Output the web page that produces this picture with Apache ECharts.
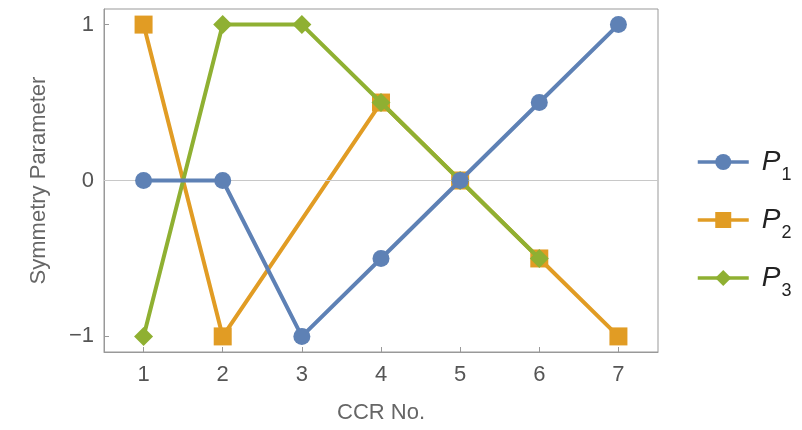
<!DOCTYPE html>
<html>
<head>
<meta charset="utf-8">
<script src="https://cdn.jsdelivr.net/npm/echarts@6/dist/echarts.min.js"></script>
<style>html,body{margin:0;padding:0;background:#fff}#c{width:802px;height:430px}</style>
</head>
<body>
<div id="c"></div>
<script>
var categories = ['1','2','3','4','5','6','7'];
var p1 = [0, 0, -1, -0.5, 0, 0.5, 1];
var p2 = [1, -1, null, 0.5, 0, -0.5, -1];
var p3 = [-1, 1, 1, 0.5, 0, -0.5, null];
var yTicks = [-1, 0, 1];
var seriesNames = ['P1', 'P2', 'P3'];

var colors = ['#5E81B5', '#E19C24', '#8FB032'];
var font = 'Liberation Sans, Arial, sans-serif';

var chart = echarts.init(document.getElementById('c'));
function mk(name, data, color, symbol, size) {
  return {
    name: name, type: 'line', data: data, symbol: symbol, symbolSize: size,
    showAllSymbol: true, connectNulls: true,
    lineStyle: {color: color, width: 4}, itemStyle: {color: color},
    emphasis: {disabled: true}
  };
}
var s1 = mk(seriesNames[0], p1, colors[0], 'circle', 17);
s1.markLine = {silent: true, symbol: ['none','none'], label: {show: false},
  lineStyle: {color: '#c8c8c8', width: 1, type: 'solid'}, data: [{yAxis: 0}]};
s1.z = 5;
var s2 = mk(seriesNames[1], p2, colors[1], 'rect', 18);
s2.z = 3;
var s3 = mk(seriesNames[2], p3, colors[2], 'diamond', 19);
s3.z = 4;

chart.setOption({
  animation: false,
  grid: {left: 104, right: 144, top: 9, bottom: 78, show: true, borderColor: '#999', borderWidth: 1, backgroundColor: 'transparent'},
  xAxis: {
    type: 'category', data: categories, boundaryGap: true,
    name: 'CCR No.', nameLocation: 'middle', nameGap: 50,
    nameTextStyle: {fontFamily: font, fontSize: 22, color: '#666'},
    axisLine: {show: true, onZero: false, lineStyle: {color: '#999'}},
    axisTick: {show: true, alignWithLabel: true, inside: true, length: 5, lineStyle: {color: '#999'}},
    axisLabel: {fontFamily: font, fontSize: 22, color: '#555', margin: 12},
    splitLine: {show: false}
  },
  yAxis: {
    type: 'value', min: -1.1, max: 1.1,
    name: 'Symmetry Parameter', nameLocation: 'middle', nameGap: 54,
    nameTextStyle: {fontFamily: font, fontSize: 22, color: '#666'},
    axisLine: {show: true, onZero: false, lineStyle: {color: '#999'}},
    axisTick: {show: true, inside: true, length: 5, customValues: yTicks, lineStyle: {color: '#999'}},
    axisLabel: {fontFamily: font, fontSize: 22, color: '#555', margin: 10, customValues: yTicks,
      formatter: function (v) { return v < 0 ? '\u2212' + Math.abs(v) : String(v); }},
    splitLine: {show: false}
  },
  legend: {
    orient: 'vertical', left: 696, top: 148, padding: 0, itemWidth: 51, itemHeight: 20, itemGap: 22,
    data: seriesNames,
    lineStyle: {width: 3.5},
    formatter: function (n) { return '{p|P}{s|' + n.slice(1) + '}'; },
    textStyle: {
      fontFamily: font, color: '#222', padding: [0, 0, 0, 8],
      rich: {
        p: {fontFamily: font, fontSize: 28, fontStyle: 'italic', color: '#222', verticalAlign: 'bottom'},
        s: {fontFamily: font, fontSize: 18, color: '#222', verticalAlign: 'bottom', padding: [0, 0, -8, 1]}
      }
    }
  },
  series: [s1, s2, s3]
});
</script>
</body>
</html>
